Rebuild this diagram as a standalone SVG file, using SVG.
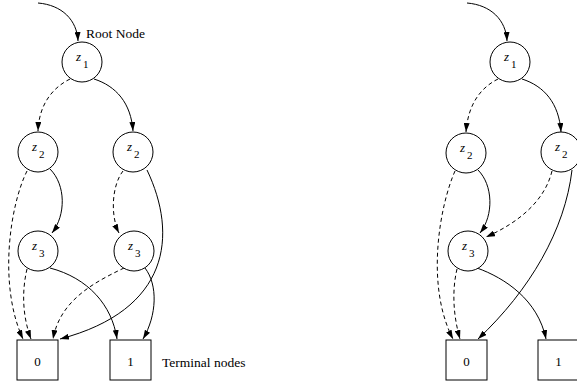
<svg xmlns="http://www.w3.org/2000/svg" width="577" height="385" viewBox="0 0 577 385">
<style>
.n{fill:#fff;stroke:#000;stroke-width:1}
.e{fill:none;stroke:#000;stroke-width:1;marker-end:url(#ah)}
.d{stroke-dasharray:4 3}
.v{font-family:"Liberation Serif",serif;font-style:italic;font-size:13px;fill:#000}
.s{font-family:"Liberation Serif",serif;font-style:normal;font-size:11px}
.t{font-family:"Liberation Serif",serif;font-size:13px;fill:#000}
</style>
<defs>
<marker id="ah" viewBox="0 0 9 6" refX="9" refY="3" markerWidth="9" markerHeight="6" markerUnits="userSpaceOnUse" orient="auto">
<path d="M0,0 L9,3 L0,6 z" fill="#000"/>
</marker>
</defs>
<rect width="577" height="385" fill="#fff"/>
<g id="connectors">
<path class="e" d="M38,3 C62,5 77,20 78,41"/>
<path class="e d" d="M70,79 C52,88 39,105 38,131"/>
<path class="e" d="M94,79 C116,86 131,103 133,131"/>
<path class="e" d="M50,169 C66,185 66,215 52,233"/>
<path class="e d" d="M27,171 C10,205 -2,285 23,339"/>
<path class="e d" d="M123,171 C112,185 110,215 119,233"/>
<path class="e" d="M147,170 C178,235 170,310 60,339"/>
<path class="e d" d="M27,269 C22,290 22,315 31,339"/>
<path class="e" d="M50,268 C88,278 112,305 117,339"/>
<path class="e d" d="M124,268 C95,282 60,300 53,339"/>
<path class="e" d="M145,268 C158,285 157,315 143,339"/>
<path class="e" d="M467,3 C491,5 506,20 507,41"/>
<path class="e d" d="M498,79 C480,88 468,105 466,132"/>
<path class="e" d="M522,79 C544,86 559,103 561,132"/>
<path class="e" d="M478,170 C493,185 494,215 480,233"/>
<path class="e d" d="M455,171 C440,205 425,285 453,339"/>
<path class="e d" d="M552,171 C545,200 520,222 486,237"/>
<path class="e" d="M572,170 C565,230 530,290 478,339"/>
<path class="e d" d="M457,269 C452,290 453,315 460,339"/>
<path class="e" d="M477,268 C505,278 538,300 546,339"/>
</g>
<g id="L_z1"><circle class="n" cx="82" cy="62" r="20"/><text class="v" x="76" y="61">z<tspan class="s" x="83" y="68">1</tspan></text></g>
<g id="L_z2a"><circle class="n" cx="38" cy="152" r="20"/><text class="v" x="32" y="151">z<tspan class="s" x="39" y="158">2</tspan></text></g>
<g id="L_z2b"><circle class="n" cx="133" cy="152" r="20"/><text class="v" x="127" y="151">z<tspan class="s" x="134" y="158">2</tspan></text></g>
<g id="L_z3a"><circle class="n" cx="38" cy="251" r="20"/><text class="v" x="32" y="250">z<tspan class="s" x="39" y="257">3</tspan></text></g>
<g id="L_z3b"><circle class="n" cx="134" cy="251" r="20"/><text class="v" x="128" y="250">z<tspan class="s" x="135" y="257">3</tspan></text></g>
<g id="L_t0"><rect class="n" x="17" y="340" width="41" height="40"/><text class="t" x="37.5" y="366" text-anchor="middle">0</text></g>
<g id="L_t1"><rect class="n" x="110" y="340" width="41" height="40"/><text class="t" x="130.5" y="366" text-anchor="middle">1</text></g>
<text class="t" x="86" y="38" style="font-size:13.5px">Root Node</text>
<text class="t" x="162" y="367" style="font-size:13.5px">Terminal nodes</text>
<g id="R_z1"><circle class="n" cx="510" cy="62" r="20"/><text class="v" x="504" y="61">z<tspan class="s" x="511" y="68">1</tspan></text></g>
<g id="R_z2a"><circle class="n" cx="466" cy="153" r="20"/><text class="v" x="460" y="152">z<tspan class="s" x="467" y="159">2</tspan></text></g>
<g id="R_z2b"><circle class="n" cx="561" cy="152" r="20"/><text class="v" x="555" y="151">z<tspan class="s" x="562" y="158">2</tspan></text></g>
<g id="R_z3"><circle class="n" cx="468" cy="251" r="20"/><text class="v" x="462" y="250">z<tspan class="s" x="469" y="257">3</tspan></text></g>
<g id="R_t0"><rect class="n" x="446" y="340" width="41" height="40"/><text class="t" x="466.5" y="366" text-anchor="middle">0</text></g>
<g id="R_t1"><rect class="n" x="538" y="340" width="41" height="40"/><text class="t" x="558.5" y="366" text-anchor="middle">1</text></g>
</svg>
